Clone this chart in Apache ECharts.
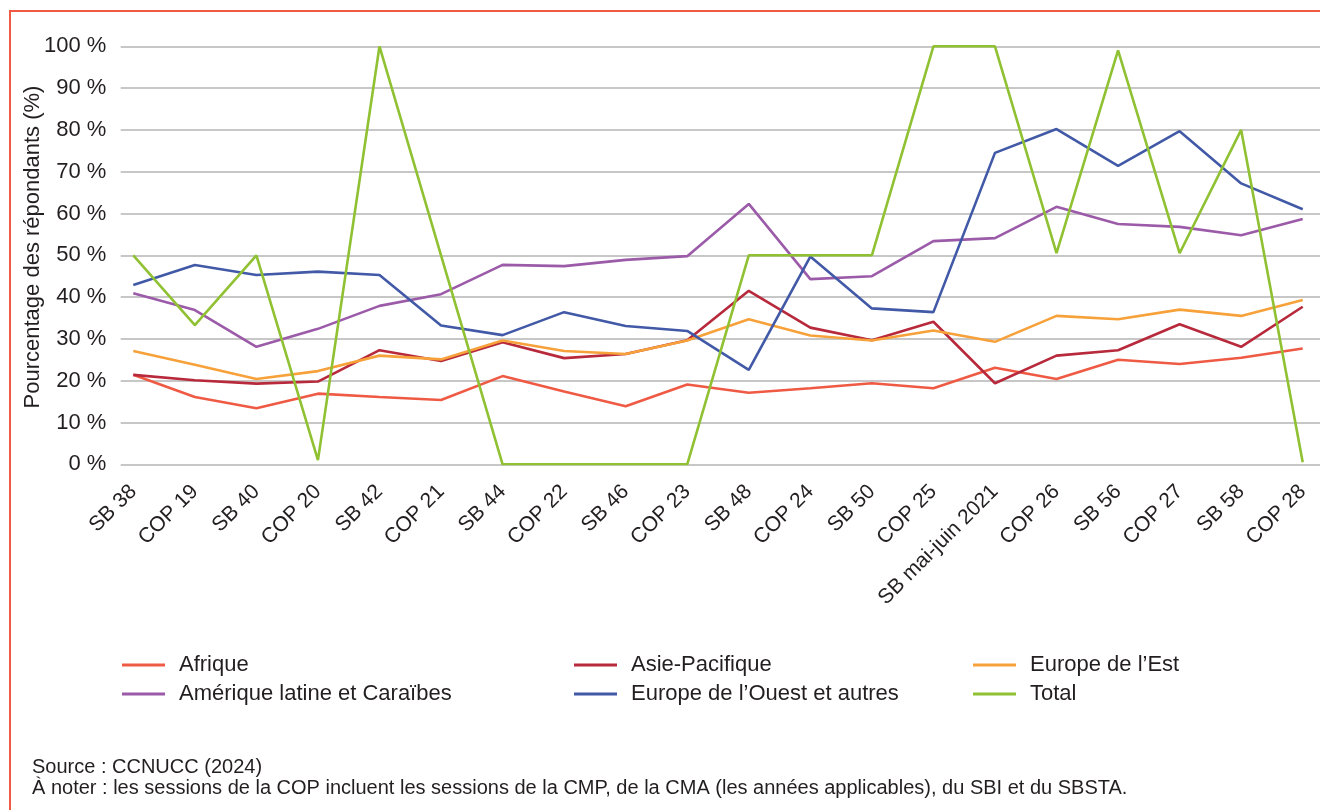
<!DOCTYPE html>
<html>
<head>
<meta charset="utf-8">
<script src="https://cdn.jsdelivr.net/npm/echarts@6/dist/echarts.min.js"></script>
<style>
  html, body { margin: 0; padding: 0; background: #ffffff; }
  #chart { width: 1320px; height: 810px; }
</style>
</head>
<body>
<div id="chart"></div>
<script>
// Sessions (x axis)
const categories = ['SB 38', 'COP 19', 'SB 40', 'COP 20', 'SB 42', 'COP 21', 'SB 44', 'COP 22', 'SB 46', 'COP 23',
  'SB 48', 'COP 24', 'SB 50', 'COP 25', 'SB mai-juin 2021', 'COP 26', 'SB 56', 'COP 27', 'SB 58', 'COP 28'];

// Share of respondents per regional group (%)
const afrique = [21.4, 16.1, 13.4, 16.9, 16.1, 15.4, 21.1, 17.4, 13.9, 19.1, 17.1, 18.2, 19.4, 18.2, 23.1, 20.4, 25.0, 24.0, 25.5, 27.7];
const asiePacifique = [21.4, 20.1, 19.3, 19.8, 27.3, 24.7, 29.2, 25.4, 26.4, 29.7, 41.5, 32.7, 29.7, 34.1, 19.4, 26.0, 27.3, 33.5, 28.1, 37.7];
const europeEst = [27.1, 23.8, 20.4, 22.3, 26.0, 25.1, 29.6, 27.1, 26.4, 29.6, 34.7, 30.8, 29.6, 32.0, 29.3, 35.5, 34.7, 37.0, 35.5, 39.3];
const ameriqueLatine = [40.9, 36.9, 28.1, 32.4, 37.9, 40.7, 47.7, 47.4, 48.9, 49.8, 62.3, 44.3, 45.0, 53.4, 54.1, 61.6, 57.5, 56.8, 54.8, 58.7];
const europeOuest = [42.9, 47.7, 45.3, 46.1, 45.3, 33.2, 30.9, 36.4, 33.1, 31.9, 22.6, 49.7, 37.3, 36.4, 74.5, 80.2, 71.4, 79.7, 67.2, 61.0];
const total = [50, 33.3, 50, 1, 100, 50, 0, 0, 0, 0, 50, 50, 50, 100, 100, 50.5, 99, 50.5, 80, 0.5];

// Y axis ticks
const yMin = 0, yMax = 100, yStep = 10;

const FONT = '"Liberation Sans", Arial, Helvetica, sans-serif';
const TEXT = '#231f20';

const seriesDefs = [
  { name: 'Afrique', data: afrique, color: '#ef5a45' },
  { name: 'Asie-Pacifique', data: asiePacifique, color: '#b7293b' },
  { name: 'Europe de l\u2019Est', data: europeEst, color: '#f7a13a' },
  { name: 'Amérique latine et Caraïbes', data: ameriqueLatine, color: '#9b5ba8' },
  { name: 'Europe de l\u2019Ouest et autres', data: europeOuest, color: '#4159a6' },
  { name: 'Total', data: total, color: '#8fc132' }
];

const legendBase = {
  orient: 'vertical',
  icon: 'rect',
  itemWidth: 43,
  itemHeight: 3,
  itemGap: 7,
  padding: 0,
  selectedMode: false,
  textStyle: { fontSize: 22, color: TEXT, fontFamily: FONT, lineHeight: 22, padding: [0, 0, 0, 9] }
};

const chart = echarts.init(document.getElementById('chart'), null, { renderer: 'canvas' });

chart.setOption({
  animation: false,
  backgroundColor: '#ffffff',
  grid: [
    { left: 133.3, right: 17.3, top: 46.3, bottom: 345.7, containLabel: false },
    { left: 120.7, right: 0, top: 46.3, bottom: 345.7, containLabel: false }
  ],
  xAxis: [
    {
      type: 'category', gridIndex: 0, data: categories, boundaryGap: false,
      axisLine: { show: false }, axisTick: { show: false },
      axisLabel: { interval: 0, rotate: 45, margin: 24, fontSize: 21, color: TEXT, fontFamily: FONT }
    },
    { type: 'value', gridIndex: 1, show: false, min: 0, max: 1 }
  ],
  yAxis: [
    {
      type: 'value', gridIndex: 0, min: yMin, max: yMax, interval: yStep,
      axisLine: { show: false }, axisTick: { show: false }, splitLine: { show: false },
      axisLabel: { formatter: '{value} %', margin: 27, fontSize: 22, color: TEXT, fontFamily: FONT }
    },
    {
      type: 'value', gridIndex: 1, min: yMin, max: yMax, interval: yStep,
      axisLine: { show: false }, axisTick: { show: false }, axisLabel: { show: false },
      splitLine: { show: true, lineStyle: { color: '#b4b4b4', width: 1.5 } }
    }
  ],
  legend: [
    Object.assign({}, legendBase, { left: 122, top: 654, data: ['Afrique', 'Amérique latine et Caraïbes'] }),
    Object.assign({}, legendBase, { left: 574, top: 654, data: ['Asie-Pacifique', 'Europe de l\u2019Ouest et autres'] }),
    Object.assign({}, legendBase, { left: 973, top: 654, data: ['Europe de l\u2019Est', 'Total'] })
  ],
  series: seriesDefs.map(s => ({
    name: s.name,
    type: 'line',
    xAxisIndex: 0,
    yAxisIndex: 0,
    data: s.data,
    showSymbol: false,
    symbol: 'none',
    color: s.color,
    lineStyle: { color: s.color, width: 2.6 },
    emphasis: { disabled: true }
  })),
  graphic: [
    {
      type: 'rect', silent: true, z: 100,
      shape: { x: 10, y: 11, width: 1400, height: 900 },
      style: { fill: 'none', stroke: '#f05a45', lineWidth: 2 }
    },
    {
      type: 'text', silent: true,
      x: 33, y: 247, rotation: Math.PI / 2,
      style: {
        text: 'Pourcentage des répondants (%)', fontSize: 22, fill: TEXT, fontFamily: FONT,
        align: 'center', verticalAlign: 'middle'
      }
    },
    {
      type: 'text', left: 32, top: 757,
      style: { text: 'Source : CCNUCC (2024)', fontSize: 20, fill: TEXT, fontFamily: FONT }
    },
    {
      type: 'text', left: 32, top: 778,
      style: { text: 'À noter : les sessions de la COP incluent les sessions de la CMP, de la CMA (les années applicables), du SBI et du SBSTA.', fontSize: 20, fill: TEXT, fontFamily: FONT }
    }
  ]
});
</script>
</body>
</html>
